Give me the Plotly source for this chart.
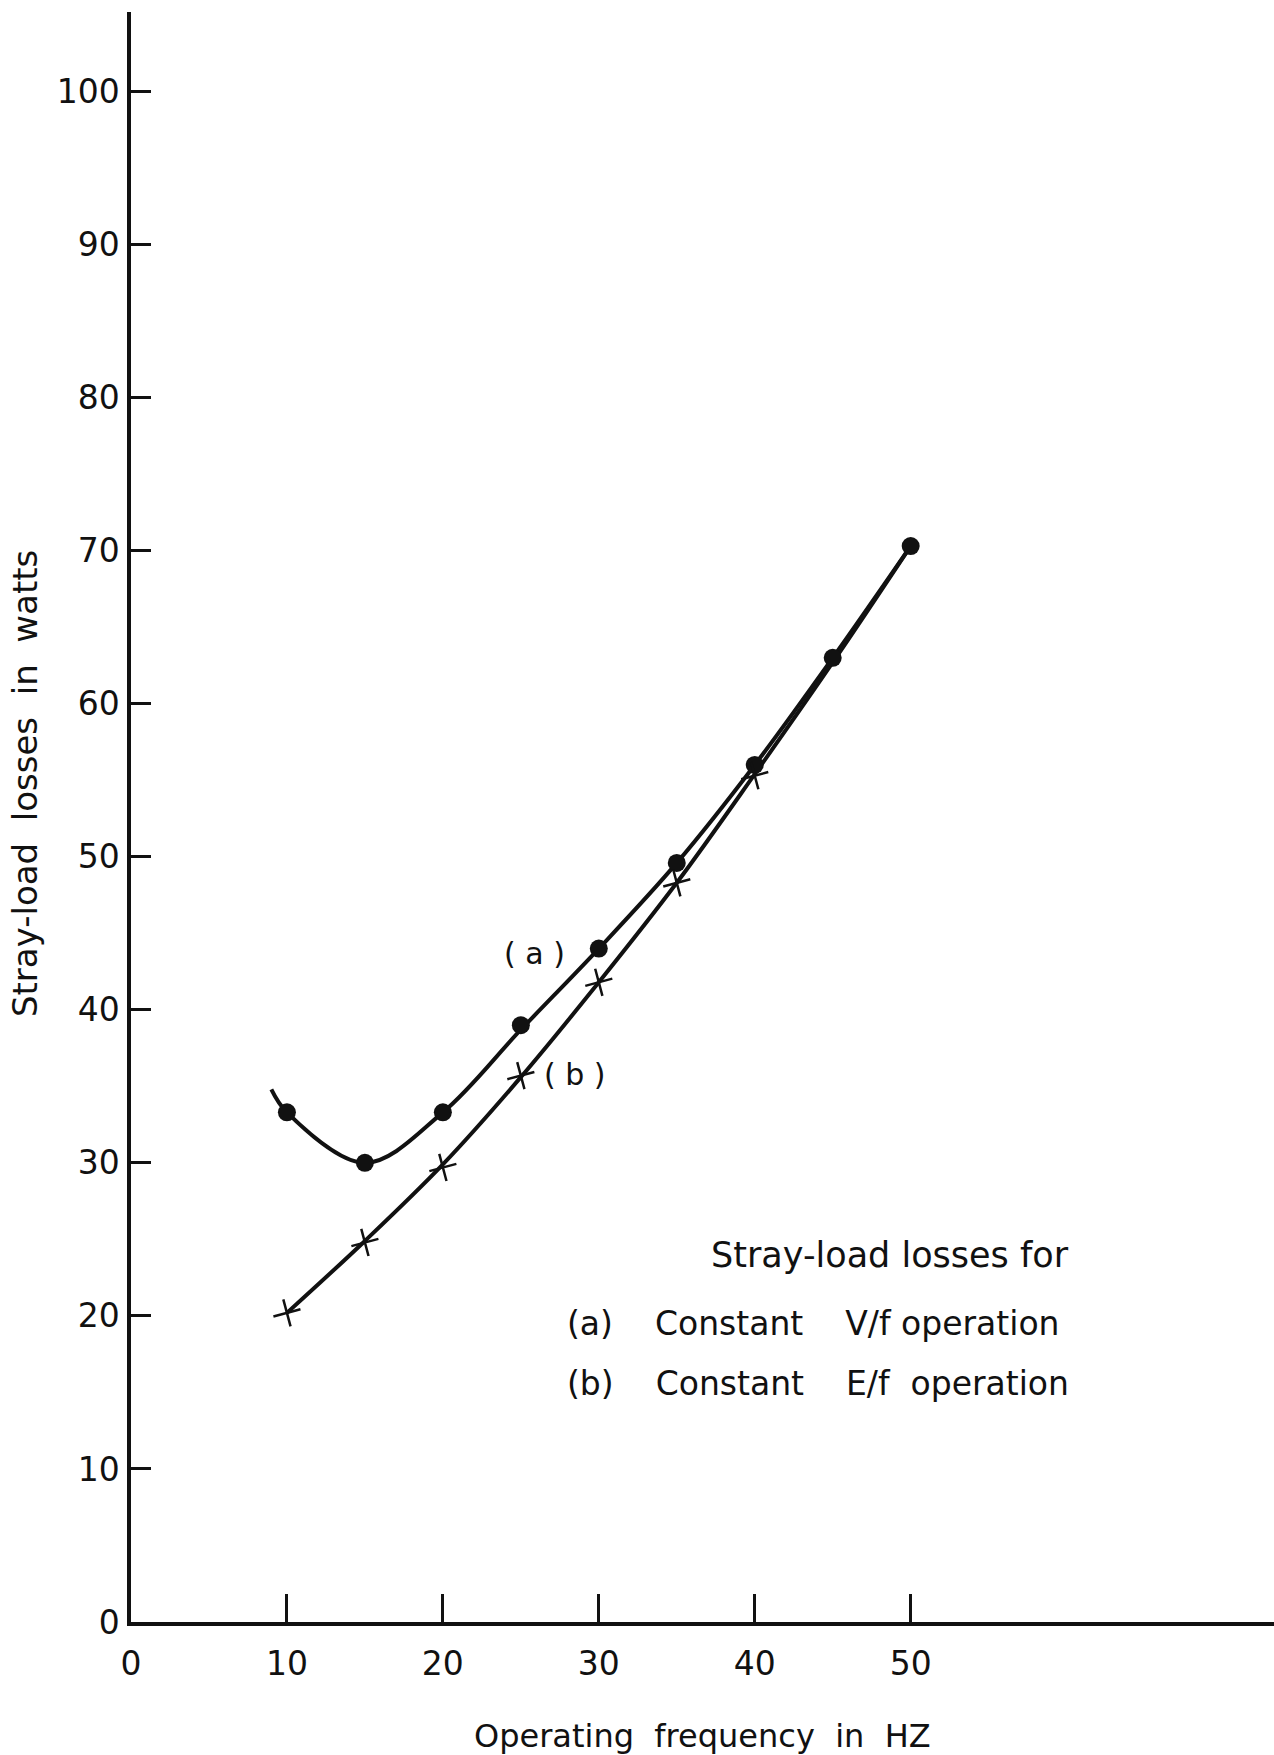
import plotly.graph_objects as go

# Data
freq_a_curve = [9.0, 10, 15, 20, 25, 30, 35, 40, 45, 50]
loss_a_curve = [34.8, 33.3, 30.0, 33.3, 38.7, 44.0, 49.6, 56.0, 63.0, 70.3]
freq_a_pts = [10, 15, 20, 25, 30, 35, 40, 45, 50]
loss_a_pts = [33.3, 30.0, 33.3, 39.0, 44.0, 49.6, 56.0, 63.0, 70.3]

freq_b_curve = [10, 15, 20, 25, 30, 35, 40, 45, 50]
loss_b_curve = [20.2, 24.9, 29.9, 35.6, 41.8, 48.3, 55.4, 62.7, 70.3]
freq_b_pts = [10, 15, 20, 25, 30, 35, 40]
loss_b_pts = [20.2, 24.8, 29.7, 35.7, 41.8, 48.3, 55.3]

x_ticks = [0, 10, 20, 30, 40, 50]
y_ticks = [0, 10, 20, 30, 40, 50, 60, 70, 80, 90, 100]

FONT = "DejaVu Sans"
BLACK = "#111111"
NB = "\u00a0"

fig = go.Figure()
fig.add_trace(go.Scatter(x=freq_a_curve, y=loss_a_curve, mode="lines",
                         line=dict(color=BLACK, width=4, shape="spline", smoothing=1.0),
                         showlegend=False, cliponaxis=False))
fig.add_trace(go.Scatter(x=freq_b_curve, y=loss_b_curve, mode="lines",
                         line=dict(color=BLACK, width=4, shape="spline", smoothing=1.0),
                         showlegend=False, cliponaxis=False))
fig.add_trace(go.Scatter(x=freq_a_pts, y=loss_a_pts, mode="markers",
                         marker=dict(color=BLACK, size=18, symbol="circle"),
                         showlegend=False, cliponaxis=False))
fig.add_trace(go.Scatter(x=freq_b_pts, y=loss_b_pts, mode="markers",
                         marker=dict(color=BLACK, size=20, symbol="cross-thin",
                                     line=dict(color=BLACK, width=2.5), angle=-15),
                         showlegend=False, cliponaxis=False))

ann = []
ann.append(dict(x=-0.0927, y=0.5205, xref="paper", yref="paper", xanchor="center", yanchor="middle",
                text=f"Stray-load{NB}{NB}losses{NB}{NB}in{NB}{NB}watts",
                textangle=-90, showarrow=False, font=dict(family=FONT, size=34, color=BLACK)))
ann.append(dict(x=0.4996, y=-0.0708, xref="paper", yref="paper", xanchor="center", yanchor="middle",
                text=f"Operating{NB}{NB}frequency{NB}{NB}in{NB}{NB}HZ",
                showarrow=False, font=dict(family=FONT, size=32, color=BLACK)))
ann.append(dict(x=25.9, y=43.7, xref="x", yref="y", text=f"({NB}a{NB})",
                showarrow=False, font=dict(family=FONT, size=30, color=BLACK)))
ann.append(dict(x=28.5, y=35.8, xref="x", yref="y", text=f"({NB}b{NB})",
                showarrow=False, font=dict(family=FONT, size=30, color=BLACK)))
ann.append(dict(x=60.3, y=24.0, xref="x", yref="y", text="Stray-load losses for",
                xanchor="right", showarrow=False, font=dict(family=FONT, size=35, color=BLACK)))
ann.append(dict(x=27.8, y=19.5, xref="x", yref="y",
                text=f"(a){NB*4}Constant{NB*4}V/f{NB}operation",
                xanchor="left", showarrow=False, font=dict(family=FONT, size=33, color=BLACK)))
ann.append(dict(x=27.8, y=15.6, xref="x", yref="y",
                text=f"(b){NB*4}Constant{NB*4}E/f{NB*2}operation",
                xanchor="left", showarrow=False, font=dict(family=FONT, size=33, color=BLACK)))

fig.update_layout(
    width=1274, height=1755,
    margin=dict(l=131, r=0, t=12, b=133),
    paper_bgcolor="white", plot_bgcolor="white",
    annotations=ann,
    font=dict(family=FONT, color=BLACK),
)
fig.update_xaxes(range=[0, 73.3], tickvals=x_ticks, ticktext=[str(v) for v in x_ticks],
                 showgrid=False, zeroline=False, showline=True, linecolor=BLACK, linewidth=3.5,
                 ticks="inside", ticklen=28, tickwidth=2.5, tickcolor=BLACK,
                 tickfont=dict(family=FONT, size=33, color=BLACK), ticklabelstandoff=10)
fig.update_yaxes(range=[0, 105.2], tickvals=y_ticks, ticktext=[str(v) for v in y_ticks],
                 showgrid=False, zeroline=False, showline=True, linecolor=BLACK, linewidth=3.5,
                 ticks="inside", ticklen=20, tickwidth=2.5, tickcolor=BLACK,
                 tickfont=dict(family=FONT, size=33, color=BLACK), ticklabelstandoff=1)

fig.write_html("out.html")
